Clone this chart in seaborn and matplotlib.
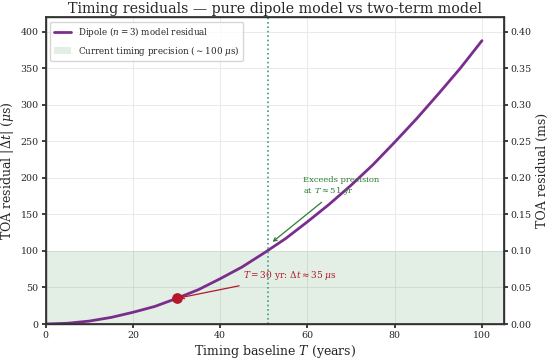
import numpy as np
import pandas as pd
import matplotlib
matplotlib.use("Agg")
import matplotlib.pyplot as plt
import seaborn as sns

# values
baseline_years = [0, 5, 10, 15, 20, 25, 30, 35, 40, 45, 50, 55, 60, 65, 70, 75, 80, 85, 90, 95, 100]
residual_us = [0, 1, 4, 9, 16, 24, 35, 47, 62, 78, 97, 117, 140, 164, 190, 218, 249, 281, 315, 350, 388]
precision_us = 100
crossing_year = 51
marker_year = 30
marker_us = 35

sns.set_theme(style="whitegrid")
plt.rcParams["font.family"] = ["DejaVu Serif"]
plt.rcParams["mathtext.fontset"] = "dejavuserif"

df = pd.DataFrame({"T": baseline_years, "dt": residual_us})

fig, ax = plt.subplots(figsize=(5.5, 3.6), dpi=100)

ax.axhspan(0, precision_us, color="#2e7d32", alpha=0.13, lw=0,
           label=r"Current timing precision ($\sim$100 $\mu$s)")
sns.lineplot(data=df, x="T", y="dt", ax=ax, color="#7b2d8e", lw=2,
             label=r"Dipole ($n=3$) model residual")
ax.axvline(crossing_year, color="#3a9a8a", ls=":", lw=1.2)
ax.scatter([marker_year], [marker_us], color="#b5172b", s=45, zorder=5)

ax.annotate("Exceeds precision\nat $T\\approx 51$ yr", xy=(crossing_year + 0.5, 110),
            xytext=(59, 179), fontsize=6, color="#2e7d32",
            arrowprops=dict(arrowstyle="->", color="#2e7d32", lw=0.9))
ax.annotate(r"$T=30$ yr: $\Delta t\approx 35\ \mu$s", xy=(marker_year, marker_us),
            xytext=(45.3, 63), fontsize=6.5, color="#b2182b",
            arrowprops=dict(arrowstyle="->", color="#b2182b", lw=0.9))

ax.set_xlim(0, 105)
ax.set_ylim(0, 420)
ax.set_xlabel(r"Timing baseline $T$ (years)", fontsize=9, labelpad=2)
ax.set_ylabel(r"TOA residual $|\Delta t|$ ($\mu$s)", fontsize=9, labelpad=3)
ax.set_title("Timing residuals \u2014 pure dipole model vs two-term model", fontsize=10.3, pad=3)
ax.tick_params(labelsize=6.8, length=3, pad=2, left=True, bottom=True)
ax.grid(color="#e6e6e6", lw=0.6)
for s in ax.spines.values():
    s.set_color("#333333")
    s.set_linewidth(1.0)

ax2 = ax.twinx()
ax2.set_ylim(0, 0.42)
ax2.set_yticks(np.arange(0, 0.41, 0.05))
ax2.set_yticklabels([f"{v:.2f}" for v in np.arange(0, 0.41, 0.05)])
ax2.grid(False)
ax2.set_ylabel("TOA residual (ms)", fontsize=9, labelpad=3)
ax2.tick_params(labelsize=6.8, length=3, pad=2, right=True)
for s in ax2.spines.values():
    s.set_color("#333333")

handles, labels = ax.get_legend_handles_labels()
ax.legend(handles[::-1], labels[::-1], loc="upper left", fontsize=6.3, frameon=True)

fig.subplots_adjust(left=0.083, right=0.916, top=0.952, bottom=0.1)
fig.savefig("out.png", dpi=100)
